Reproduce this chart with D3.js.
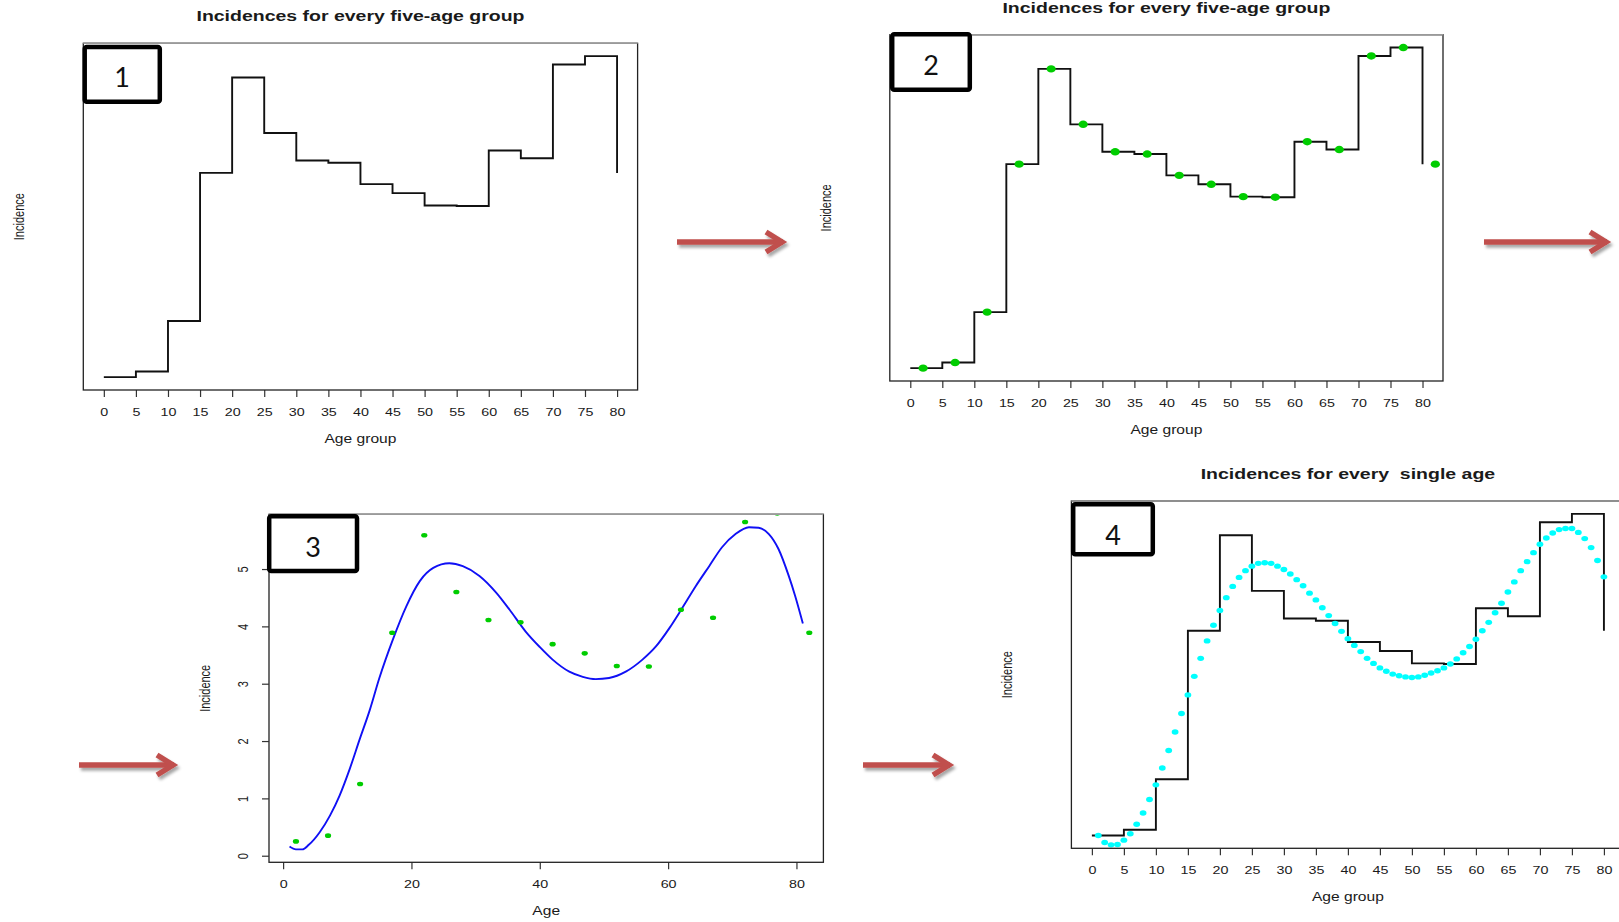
<!DOCTYPE html>
<meta charset="utf-8">
<style>
  body { margin: 0; background: #fff; }
  svg { display: block; font-family: "Liberation Sans", Arial, sans-serif; }
  .frame { fill: none; stroke: #222; stroke-width: 1.3; }
  .topline { stroke: #9a9a9a; stroke-width: 1.6; }
  .axis path, .axis line { stroke: #333; stroke-width: 1.2; }
  .axis text { font-size: 11px; fill: #1a1a1a; }
  .step { fill: none; stroke: #111; stroke-width: 1.9; }
  .fit { fill: none; stroke: #1010f5; stroke-width: 1.9; }
</style>
<script src="https://d3js.org/d3.v7.min.js"></script>
<body>
</body>
<script>
// five-year age groups (80 = 80+)
var groupAges = [0, 5, 10, 15, 20, 25, 30, 35, 40, 45, 50, 55, 60, 65, 70, 75, 80];
var groupRates = [0.25, 0.35, 1.25, 3.89, 5.59, 4.60, 4.11, 4.07, 3.69, 3.53, 3.31, 3.30, 4.29, 4.15, 5.82, 5.97, 3.89];
// group mid points used for the fit
var midAges = [2, 7, 12, 17, 22, 27, 32, 37, 42, 47, 52, 57, 62, 67, 72, 77, 82];
var fitAges = [1, 2, 3, 4, 5.7, 7.3, 8.8, 10.4, 11.9, 13.5, 15, 17.1, 19.2, 21.3, 23.4, 25.9, 28, 30.6, 33.2, 35.3, 37.8, 40,
               42, 44.6, 46.7, 48.7, 50.8, 53.4, 56, 58.1, 60.2, 62.2, 64.3, 66.4, 68.4, 70.5, 72.6, 74.1, 75.7, 77.2, 78.8, 79.8, 81];
var fitRates = [0.16, 0.11, 0.11, 0.19, 0.41, 0.70, 1.05, 1.52, 2.02, 2.54, 3.10, 3.77, 4.35, 4.79, 5.02, 5.10, 5.05, 4.88, 4.59, 4.29, 3.91, 3.64,
                3.42, 3.21, 3.12, 3.08, 3.10, 3.21, 3.42, 3.65, 3.97, 4.32, 4.70, 5.05, 5.38, 5.61, 5.73, 5.72, 5.61, 5.35, 4.88, 4.53, 4.05];
// single ages, panel 4
var singleAges = [1, 2, 3, 4, 5, 6, 7, 8, 9, 10, 11, 12, 13, 14, 15, 16, 17, 18, 19, 20, 21, 22, 23, 24, 25, 26, 27, 28, 29, 30,
                  31, 32, 33, 34, 35, 36, 37, 38, 39, 40, 41, 42, 43, 44, 45, 46, 47, 48, 49, 50, 51, 52, 53, 54, 55, 56, 57, 58, 59, 60,
                  61, 62, 63, 64, 65, 66, 67, 68, 69, 70, 71, 72, 73, 74, 75, 76, 77, 78, 79, 80];
var singleRates = [0.25, 0.125, 0.083, 0.089, 0.166, 0.28, 0.45, 0.65, 0.89, 1.15, 1.45, 1.76, 2.09, 2.42, 2.75, 3.08, 3.40, 3.71, 3.99, 4.25,
                   4.48, 4.68, 4.84, 4.96, 5.04, 5.09, 5.10, 5.09, 5.04, 4.98, 4.90, 4.80, 4.69, 4.56, 4.44, 4.30, 4.16, 4.02, 3.88, 3.75,
                   3.63, 3.52, 3.40, 3.31, 3.23, 3.17, 3.12, 3.09, 3.07, 3.06, 3.07, 3.10, 3.14, 3.18, 3.23, 3.30, 3.39, 3.50, 3.61, 3.74,
                   3.89, 4.04, 4.21, 4.38, 4.58, 4.76, 4.96, 5.12, 5.28, 5.43, 5.54, 5.63, 5.69, 5.71, 5.71, 5.64, 5.53, 5.37, 5.14, 4.85];
var groupTicks = [0, 5, 10, 15, 20, 25, 30, 35, 40, 45, 50, 55, 60, 65, 70, 75, 80];
var ageTicks = [0, 20, 40, 60, 80];
var rateTicks = [0, 1, 2, 3, 4, 5];

var W = 1619, H = 922, SX = 1.3;

var svg = d3.select("body").append("svg").attr("width", W).attr("height", H);

var defs = svg.append("defs");
defs.append("filter").attr("id", "shadow").attr("x", "-20%").attr("y", "-50%").attr("width", "140%").attr("height", "200%")
  .append("feDropShadow").attr("dx", 2).attr("dy", 3).attr("stdDeviation", 1.6)
  .attr("flood-color", "#000").attr("flood-opacity", 0.35);

// R style: pad the range by 4% on each side
function pad(ext) {
  var d = (ext[1] - ext[0]) * 0.04;
  return [ext[0] - d, ext[1] + d];
}

// text stretched horizontally, like the pasted R plots
function stext(g, x, y, txt, size, opts) {
  opts = opts || {};
  return g.append("text")
    .attr("transform", "translate(" + x + "," + y + ") scale(" + SX + ",1)" + (opts.rotate ? " rotate(-90)" : ""))
    .attr("text-anchor", "middle")
    .attr("dy", opts.rotate ? "0.35em" : null)
    .style("font-size", size + "px")
    .style("font-weight", opts.bold ? "bold" : null)
    .style("fill", "#1a1a1a")
    .text(txt);
}

var clipId = 0;
function panel(box, xDom, yDom, xTicks, xTitle, title) {
  var g = svg.append("g");
  var x = d3.scaleLinear().domain(xDom).range([box.left, box.left + box.w]);
  var y = d3.scaleLinear().domain(yDom).range([box.top + box.h, box.top]);

  var id = "clip" + (clipId++);
  defs.append("clipPath").attr("id", id).append("rect")
    .attr("x", box.left).attr("y", box.top).attr("width", box.w).attr("height", box.h);
  var plot = g.append("g").attr("clip-path", "url(#" + id + ")");

  var ax = g.append("g").attr("class", "axis")
    .attr("transform", "translate(0," + (box.top + box.h) + ")")
    .call(d3.axisBottom(x).tickValues(xTicks).tickSize(7).tickSizeOuter(0).tickFormat(d3.format("d")));
  ax.select(".domain").remove();
  ax.selectAll("text").attr("y", null).attr("dy", null)
    .attr("transform", "translate(0,26) scale(" + SX + ",1)");

  g.append("rect").attr("class", "frame")
    .attr("x", box.left).attr("y", box.top).attr("width", box.w).attr("height", box.h);
  g.append("line").attr("class", "topline")
    .attr("x1", box.left).attr("x2", box.left + box.w).attr("y1", box.top).attr("y2", box.top);

  stext(g, box.left + box.w / 2, box.top + box.h + 53, xTitle, 12);
  stext(g, box.left - 64, box.top + box.h / 2, "Incidence", 11, { rotate: true });
  if (title) stext(g, box.left + box.w / 2, box.top - 22, title, 15, { bold: true });

  return { g: g, plot: plot, x: x, y: y };
}

var stepDomainX = pad(d3.extent(groupAges));
var stepDomainY = pad(d3.extent(groupRates));

function stepLine(p) {
  var line = d3.line().curve(d3.curveStepAfter)
    .x(function(d, i) { return p.x(groupAges[i]); })
    .y(function(d) { return p.y(d); });
  p.plot.append("path").attr("class", "step").attr("d", line(groupRates));
}

// panel 1
var p1 = panel({ left: 83.3, top: 43.3, w: 554.3, h: 346.7 }, stepDomainX, stepDomainY, groupTicks,
  "Age group", "Incidences for every five-age group");
stepLine(p1);

// panel 2
var p2 = panel({ left: 889.8, top: 34.7, w: 553.2, h: 346.3 }, stepDomainX, stepDomainY, groupTicks,
  "Age group", "Incidences for every five-age group");
stepLine(p2);
p2.plot.selectAll(".mid").data(groupRates).enter().append("ellipse")
  .attr("cx", function(d, i) { return p2.x(midAges[i]); })
  .attr("cy", function(d) { return p2.y(d); })
  .attr("rx", 4.6).attr("ry", 3.7)
  .style("fill", "#00cd00");

// panel 3
var p3 = panel({ left: 269, top: 514.3, w: 554.4, h: 348 }, pad(d3.extent(fitAges)), pad(d3.extent(fitRates)), ageTicks,
  "Age", null);
var ay = p3.g.append("g").attr("class", "axis")
  .attr("transform", "translate(" + 269 + ",0)")
  .call(d3.axisLeft(p3.y).tickValues(rateTicks).tickSize(7).tickSizeOuter(0).tickFormat(d3.format("d")));
ay.select(".domain").remove();
ay.selectAll("text").attr("x", null).attr("dy", "0.35em").attr("text-anchor", "middle")
  .attr("transform", "translate(-26,0) scale(" + SX + ",1) rotate(-90)");
var fitLine = d3.line().curve(d3.curveMonotoneX)
  .x(function(d, i) { return p3.x(fitAges[i]); })
  .y(function(d) { return p3.y(d); });
p3.plot.append("path").attr("class", "fit").attr("d", fitLine(fitRates));
p3.plot.selectAll(".mid").data(groupRates).enter().append("ellipse")
  .attr("cx", function(d, i) { return p3.x(midAges[i]); })
  .attr("cy", function(d) { return p3.y(d); })
  .attr("rx", 3.1).attr("ry", 2.3)
  .style("fill", "#00cd00");

// panel 4 (runs off the right edge of the slide)
var p4 = panel({ left: 1071.4, top: 501, w: 553, h: 347.3 }, stepDomainX, stepDomainY, groupTicks,
  "Age group", "Incidences for every\u00a0 single age");
stepLine(p4);
p4.plot.selectAll(".single").data(singleRates).enter().append("ellipse")
  .attr("cx", function(d, i) { return p4.x(singleAges[i]); })
  .attr("cy", function(d) { return p4.y(d); })
  .attr("rx", 3.4).attr("ry", 2.7)
  .style("fill", "#00ffff");

// numbered boxes
var boxes = [
  { n: "1", x0: 84.7, y0: 46.9, x1: 159.8, y1: 101.8, tx: 122, ty: 77 },
  { n: "2", x0: 892.2, y0: 34.2, x1: 969.8, y1: 89.8, tx: 931, ty: 65 },
  { n: "3", x0: 269.2, y0: 516.2, x1: 357, y1: 571, tx: 313, ty: 547 },
  { n: "4", x0: 1073.2, y0: 504.2, x1: 1152.8, y1: 554.3, tx: 1113, ty: 535 }
];
var bg = svg.append("g");
boxes.forEach(function(b) {
  bg.append("rect").attr("x", b.x0).attr("y", b.y0).attr("width", b.x1 - b.x0).attr("height", b.y1 - b.y0)
    .attr("rx", 2).style("fill", "#fff").style("stroke", "#000").style("stroke-width", 4.5);
  bg.append("text").attr("x", b.tx).attr("y", b.ty).attr("dy", "0.36em").attr("text-anchor", "middle")
    .style("font-family", "Lato, 'Open Sans', sans-serif").style("font-size", "27px").style("fill", "#111")
    .text(b.n);
});

// red arrows between the steps
var arrows = [
  { x1: 677, x2: 785, y: 242 },
  { x1: 1484, x2: 1609, y: 242 },
  { x1: 79, x2: 176, y: 765 },
  { x1: 863, x2: 952, y: 765 }
];
var ag = svg.append("g").attr("filter", "url(#shadow)")
  .style("stroke", "#c0504d").style("stroke-width", 5.5).style("fill", "none")
  .style("stroke-linecap", "butt").style("stroke-linejoin", "miter");
arrows.forEach(function(a) {
  ag.append("line").attr("x1", a.x1).attr("x2", a.x2 - 2).attr("y1", a.y).attr("y2", a.y);
  ag.append("polyline").attr("points",
    [[a.x2 - 19, a.y - 10], [a.x2 - 3, a.y], [a.x2 - 19, a.y + 10]].map(function(p) { return p.join(","); }).join(" "));
});
</script>
